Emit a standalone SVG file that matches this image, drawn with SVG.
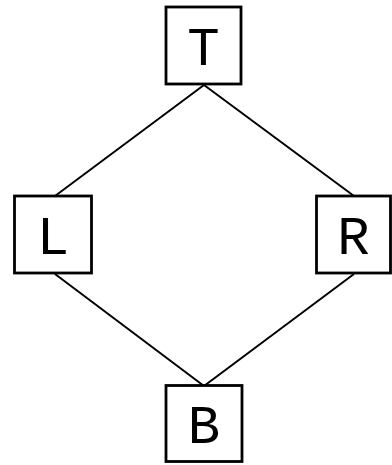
<svg xmlns="http://www.w3.org/2000/svg" width="392" height="465" viewBox="0 0 392 465">
<style>
.box{fill:#fff;stroke:#000;stroke-width:2.8}
.lbl{font-family:"Courier New","Nimbus Mono PS","Nimbus Mono L",FreeMono,Courier,"Liberation Mono",monospace;font-size:54px;fill:#000;text-anchor:middle}
.edge{stroke:#000;stroke-width:2;fill:none}
</style>
<rect width="392" height="465" fill="#fff"/>
<g id="edges">
<line class="edge" x1="204" y1="85" x2="55" y2="196"/>
<line class="edge" x1="204" y1="85" x2="354" y2="196"/>
<line class="edge" x1="55" y1="274" x2="204" y2="386"/>
<line class="edge" x1="354" y1="274" x2="204" y2="386"/>
</g>
<g id="T"><rect class="box" x="166" y="7" width="75" height="77"/><text class="lbl" x="203.5" y="65">T</text></g>
<g id="L"><rect class="box" x="14.5" y="196" width="77" height="77"/><text class="lbl" x="53" y="254">L</text></g>
<g id="R"><rect class="box" x="316.5" y="196" width="74" height="77"/><text class="lbl" x="353.5" y="254">R</text></g>
<g id="B"><rect class="box" x="166" y="385.5" width="76" height="76"/><text class="lbl" x="204" y="443">B</text></g>
</svg>
